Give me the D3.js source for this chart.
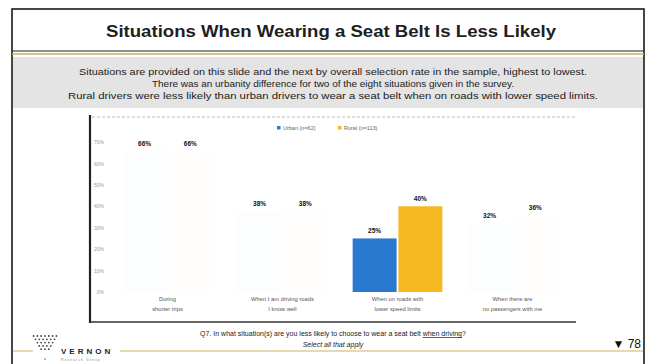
<!DOCTYPE html>
<html><head><meta charset="utf-8">
<script src="https://cdn.jsdelivr.net/npm/d3@7"></script>
<style>
html,body{margin:0;padding:0;background:#fff;}
svg{display:block;font-family:"Liberation Sans",Arial,sans-serif;}
</style></head>
<body>
<svg id="c" width="653" height="364"></svg>
<script>
const title = "Situations When Wearing a Seat Belt Is Less Likely";
const subtitle = [
  "Situations are provided on this slide and the next by overall selection rate in the sample, highest to lowest.",
  "There was an urbanity difference for two of the eight situations given in the survey.",
  "Rural drivers were less likely than urban drivers to wear a seat belt when on roads with lower speed limits."
];
const categories = [
  ["During", "shorter trips"],
  ["When I am driving roads", "I know well"],
  ["When on roads with", "lower speed limits"],
  ["When there are", "no passengers with me"]
];
const seriesNames = ["Urban (n=62)", "Rural (n=113)"];
const urban = [66, 38, 25, 32];
const rural = [66, 38, 40, 36];
const significant = [false, false, true, false];
const yTicks = [0, 10, 20, 30, 40, 50, 60, 70];
const question = "Q7. In what situation(s) are you less likely to choose to wear a seat belt ";
const questionU = "when driving";
const note = "Select all that apply";
const pageNo = "78";

const colors = ["#2a78cf", "#f5b821"];
const svg = d3.select("#c");

// slide frame
svg.append("rect").attr("x",12).attr("y",9).attr("width",632).attr("height",360)
  .attr("fill","#fff").attr("stroke","#1a1a1a").attr("stroke-width",1.6);
// title box
svg.append("line").attr("x1",12).attr("x2",644).attr("y1",51).attr("y2",51).attr("stroke","#222").attr("stroke-width",1.2);
svg.append("line").attr("x1",12).attr("x2",644).attr("y1",54).attr("y2",54).attr("stroke","#c9b06a").attr("stroke-width",1.5);
svg.append("text").attr("x",331).attr("y",37).attr("text-anchor","middle")
  .attr("font-size",17).attr("font-weight","bold").attr("fill","#1e1e1e")
  .attr("textLength",450).attr("lengthAdjust","spacingAndGlyphs").text(title);

// gray band
svg.append("rect").attr("x",13).attr("y",57).attr("width",630).attr("height",51).attr("fill","#e4e4e4");
const subY = [75, 87, 99];
const subW = [508, 362, 530];
subtitle.forEach((s,i)=>{
  svg.append("text").attr("x",333).attr("y",subY[i]).attr("text-anchor","middle")
    .attr("font-size",9).attr("fill","#222")
    .attr("textLength",subW[i]).attr("lengthAdjust","spacingAndGlyphs").text(s);
});

// chart panel
const panel = {x0:90, x1:576, y0:115, y1:322};
svg.append("rect").attr("x",panel.x0).attr("y",panel.y0).attr("width",panel.x1-panel.x0).attr("height",panel.y1-panel.y0).attr("fill","#fff");
svg.append("line").attr("x1",panel.x0+2).attr("x2",panel.x1).attr("y1",117).attr("y2",117)
  .attr("stroke","#aaa").attr("stroke-width",0.8).attr("stroke-dasharray","3,2");
svg.append("line").attr("x1",panel.x0).attr("x2",panel.x0).attr("y1",panel.y0).attr("y2",panel.y1+1)
  .attr("stroke","#222").attr("stroke-width",2.2);
svg.append("line").attr("x1",panel.x0).attr("x2",panel.x1).attr("y1",panel.y1).attr("y2",panel.y1)
  .attr("stroke","#333").attr("stroke-width",1.4);

const y = d3.scaleLinear().domain([0,70]).range([292,142]);
const x0 = d3.scaleBand().domain(d3.range(categories.length)).range([110,570]).paddingInner(0.22).paddingOuter(0.11);
const x1 = d3.scaleBand().domain([0,1]).range([0,x0.bandwidth()]).paddingInner(0.04);

// y axis tick labels
const yAxis = d3.axisLeft(y).tickValues(yTicks).tickFormat(d=>d+"%").tickSize(0).tickPadding(0);
const ga = svg.append("g").attr("transform","translate(104,0)").call(yAxis);
ga.select(".domain").remove();
ga.selectAll("text").attr("font-size",5).attr("fill","#999").attr("font-family","'Liberation Sans',Arial,sans-serif");

// bars
const groups = svg.append("g").selectAll("g").data(categories).join("g")
  .attr("transform",(d,i)=>`translate(${x0(i)},0)`);
groups.each(function(d,i){
  const g = d3.select(this);
  [urban[i], rural[i]].forEach((v,s)=>{
    g.append("rect").attr("x",x1(s)).attr("y",y(v)).attr("width",x1.bandwidth()).attr("height",y(0)-y(v))
      .attr("fill",colors[s]).attr("opacity",significant[i]?1:0.015);
    g.append("text").attr("x",x1(s)+x1.bandwidth()/2).attr("y",y(v)-5).attr("text-anchor","middle")
      .attr("font-size",6.5).attr("font-weight","bold").attr("fill","#111").text(v+"%");
  });
  d.forEach((line,k)=>{
    g.append("text").attr("x",x0.bandwidth()/2).attr("y",301+k*10).attr("text-anchor","middle")
      .attr("font-size",5.8).attr("fill","#555").text(line);
  });
});

// legend
const leg = [{x:277},{x:338}];
seriesNames.forEach((n,i)=>{
  svg.append("rect").attr("x",leg[i].x).attr("y",126).attr("width",3.5).attr("height",3.5).attr("fill",colors[i]);
  svg.append("text").attr("x",leg[i].x+6).attr("y",130).attr("font-size",5.5).attr("fill","#666").text(n);
});

// footer
const q = svg.append("text").attr("x",333).attr("y",336).attr("text-anchor","middle").attr("font-size",7).attr("fill","#222");
q.append("tspan").text(question);
q.append("tspan").attr("text-decoration","underline").text(questionU);
q.append("tspan").text("?");
svg.append("text").attr("x",333).attr("y",347).attr("text-anchor","middle").attr("font-size",7)
  .attr("font-style","italic").attr("fill","#222").text(note);
svg.append("text").attr("x",641).attr("y",348).attr("text-anchor","end").attr("font-size",12).attr("fill","#111")
  .text("\u25BC " + pageNo);

// gold rule with logo
svg.append("line").attr("x1",13).attr("x2",33).attr("y1",351).attr("y2",351).attr("stroke","#c9a84c").attr("stroke-width",0.9);
svg.append("line").attr("x1",120).attr("x2",643).attr("y1",351).attr("y2",351).attr("stroke","#c9a84c").attr("stroke-width",0.9);
// logo dots triangle
const rows = [7,6,5,4,3];
rows.forEach((n,r)=>{
  for(let k=0;k<n;k++){
    svg.append("circle").attr("cx",45-(n-1)*1.9+k*3.8).attr("cy",336+r*3.3).attr("r",0.9).attr("fill","#444");
  }
});
svg.append("circle").attr("cx",45).attr("cy",359).attr("r",1).attr("fill","#c9a84c");
svg.append("text").attr("x",61).attr("y",354).attr("font-size",8).attr("font-weight","bold").attr("fill","#222")
  .attr("letter-spacing",3).text("VERNON");
svg.append("text").attr("x",61).attr("y",361).attr("font-size",3.5).attr("fill","#888").attr("letter-spacing",1).text("Research Group");
</script>
</body></html>
